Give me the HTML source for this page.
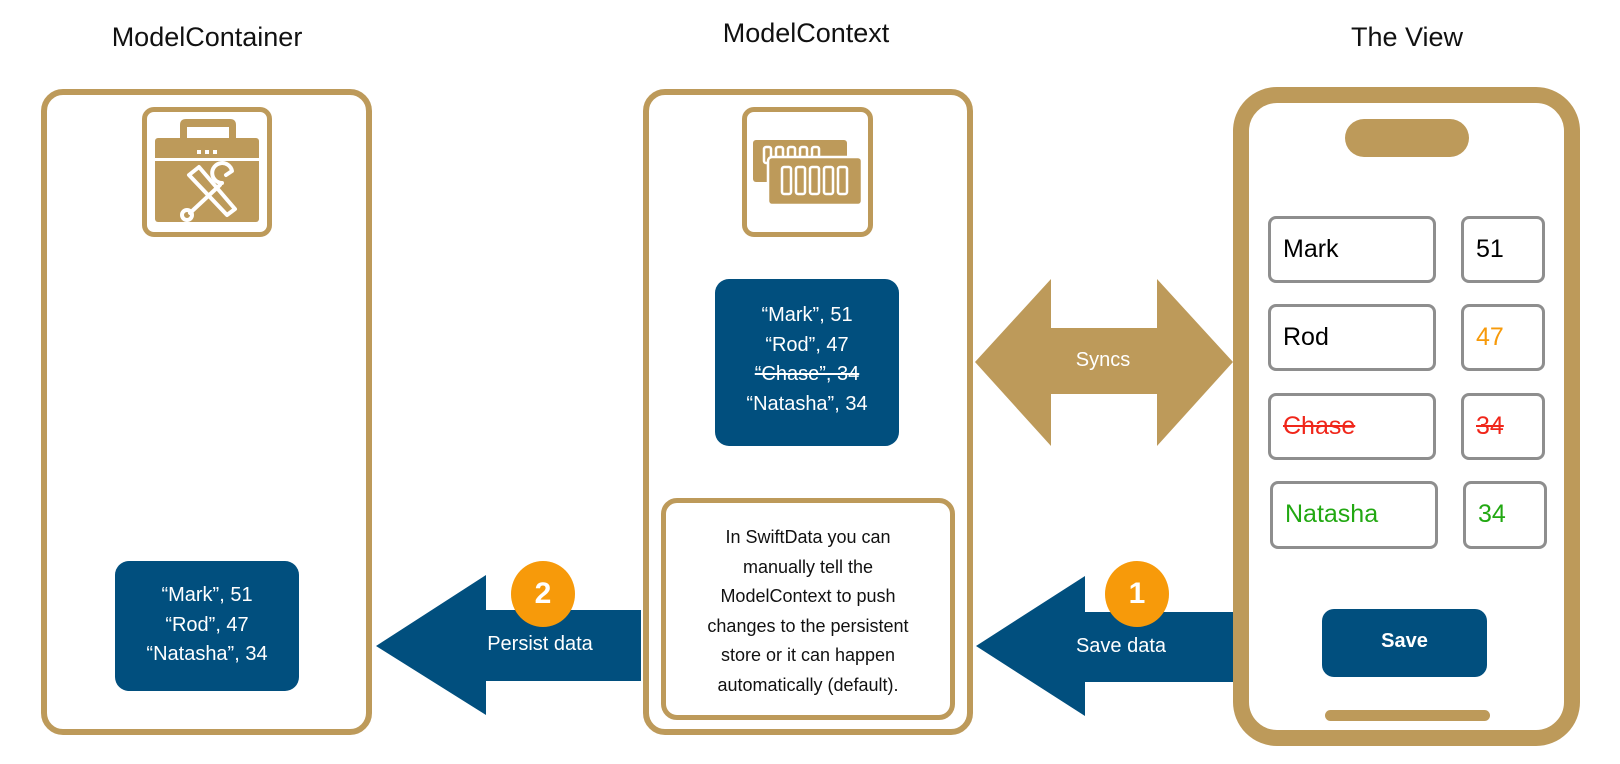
<!DOCTYPE html>
<html><head><meta charset="utf-8"><style>
body{margin:0;width:1620px;height:764px;background:#fff;position:relative;overflow:hidden;font-family:"Liberation Sans",sans-serif}
.a{position:absolute;box-sizing:border-box}
.t{position:absolute;text-align:center;color:#111;font-size:27px;transform:translateX(-50%);white-space:nowrap}
.gold{border:6px solid #BD9A5A;border-radius:22px;background:#fff}
.blue{background:#014F7E;border-radius:14px;color:#fff;text-align:center;font-size:20px;line-height:29.5px}
.f{border:3px solid #8e8e8e;border-radius:8px;background:#fff;font-size:25px;line-height:61px;padding-left:12px}
.circ{position:absolute;width:64px;height:66px;border-radius:50%;background:#F79A0A;color:#fff;font-weight:bold;font-size:30px;text-align:center;line-height:66px}
</style></head><body>
<div class="t" style="left:207px;top:22px">ModelContainer</div>
<div class="t" style="left:806px;top:18px">ModelContext</div>
<div class="t" style="left:1407px;top:22px">The View</div>

<div class="a gold" style="left:41px;top:89px;width:331px;height:646px"></div>
<div class="a gold" style="left:643px;top:89px;width:330px;height:646px"></div>

<div class="a" style="left:142px;top:107px;width:130px;height:130px;border:5px solid #BD9A5A;border-radius:12px"></div>
<svg class="a" style="left:142px;top:107px" width="130" height="130">
<path d="M38 32 V18 q0-6 6-6 h44 q6 0 6 6 v14 h-7 v-12 h-42 v12z" fill="#BD9A5A"/>
<rect x="13" y="31" width="104" height="84" rx="3" fill="#BD9A5A"/>
<rect x="13" y="51" width="104" height="3" fill="#fff"/>
<rect x="55" y="43" width="4" height="4" fill="#fff"/><rect x="63" y="43" width="4" height="4" fill="#fff"/><rect x="71" y="43" width="4" height="4" fill="#fff"/>
<g stroke="#fff" stroke-width="4" fill="none" stroke-linecap="round" stroke-linejoin="round">
<path d="M47 68 l10 -8 l36 42 l-8 6 z"/>
<path d="M78 78 l-30 28"/><circle cx="45" cy="108" r="5"/>
<path d="M80 76 a10 10 0 1 1 10 -12 l-6 4"/>
</g></svg>

<div class="a" style="left:742px;top:107px;width:131px;height:130px;border:5px solid #BD9A5A;border-radius:12px"></div>
<svg class="a" style="left:742px;top:107px" width="131" height="130">
<rect x="11" y="33" width="94" height="42" rx="3" fill="#BD9A5A"/>
<g fill="none" stroke="#fff" stroke-width="2.5">
<rect x="22" y="40" width="7" height="16" rx="2"/><rect x="34" y="40" width="7" height="16" rx="2"/><rect x="46" y="40" width="7" height="16" rx="2"/><rect x="58" y="40" width="7" height="16" rx="2"/><rect x="70" y="40" width="7" height="16" rx="2"/>
</g>
<rect x="26" y="50" width="94" height="48" rx="4" fill="#BD9A5A" stroke="#fff" stroke-width="2.5"/>
<g fill="none" stroke="#fff" stroke-width="2.5">
<rect x="40" y="60" width="9" height="27" rx="2"/><rect x="54" y="60" width="9" height="27" rx="2"/><rect x="68" y="60" width="9" height="27" rx="2"/><rect x="82" y="60" width="9" height="27" rx="2"/><rect x="96" y="60" width="9" height="27" rx="2"/>
</g></svg>

<div class="a blue" style="left:715px;top:279px;width:184px;height:167px;padding-top:22px">“Mark”, 51<br>“Rod”, 47<br><s>“Chase”, 34</s><br>“Natasha”, 34</div>
<div class="a blue" style="left:115px;top:561px;width:184px;height:130px;padding-top:20px">“Mark”, 51<br>“Rod”, 47<br>“Natasha”, 34</div>

<div class="a" style="left:661px;top:498px;width:294px;height:222px;border:5px solid #BD9A5A;border-radius:16px;text-align:center;font-size:18px;line-height:29.5px;padding-top:20px;color:#111">In SwiftData you can<br>manually tell the<br>ModelContext to push<br>changes to the persistent<br>store or it can happen<br>automatically (default).</div>

<svg class="a" style="left:0;top:0" width="1620" height="764">
<polygon points="975,362 1051,279 1051,328 1157,328 1157,279 1233,362 1157,446 1157,394 1051,394 1051,446" fill="#BD9A5A"/>
<polygon points="976,646 1085,576 1085,612 1234,612 1234,682 1085,682 1085,716" fill="#014F7E"/>
<polygon points="376,646 486,575 486,610 641,610 641,681 486,681 486,715" fill="#014F7E"/>
</svg>
<div class="t" style="left:1103px;top:349px;color:#fff;font-size:20px">Syncs</div>
<div class="t" style="left:1121px;top:635px;color:#fff;font-size:20px">Save data</div>
<div class="t" style="left:540px;top:633px;color:#fff;font-size:20px">Persist data</div>
<div class="circ" style="left:511px;top:561px">2</div>
<div class="circ" style="left:1105px;top:561px">1</div>

<div class="a" style="left:1233px;top:87px;width:347px;height:659px;border:16px solid #BD9A5A;border-radius:44px"></div>
<div class="a" style="left:1345px;top:119px;width:124px;height:38px;border-radius:19px;background:#BD9A5A"></div>
<div class="a" style="left:1325px;top:710px;width:165px;height:11px;border-radius:6px;background:#BD9A5A"></div>

<div class="a f" style="left:1268px;top:216px;width:168px;height:67px">Mark</div>
<div class="a f" style="left:1461px;top:216px;width:84px;height:67px">51</div>
<div class="a f" style="left:1268px;top:304px;width:168px;height:67px">Rod</div>
<div class="a f" style="left:1461px;top:304px;width:84px;height:67px;color:#F79A0A">47</div>
<div class="a f" style="left:1268px;top:393px;width:168px;height:67px;color:#F0261A"><s>Chase</s></div>
<div class="a f" style="left:1461px;top:393px;width:84px;height:67px;color:#F0261A"><s>34</s></div>
<div class="a f" style="left:1270px;top:481px;width:168px;height:68px;color:#22A812">Natasha</div>
<div class="a f" style="left:1463px;top:481px;width:84px;height:68px;color:#22A812">34</div>

<div class="a" style="left:1322px;top:609px;width:165px;height:68px;background:#014F7E;border-radius:12px;color:#fff;font-weight:bold;font-size:20px;text-align:center;line-height:64px">Save</div>
</body></html>
